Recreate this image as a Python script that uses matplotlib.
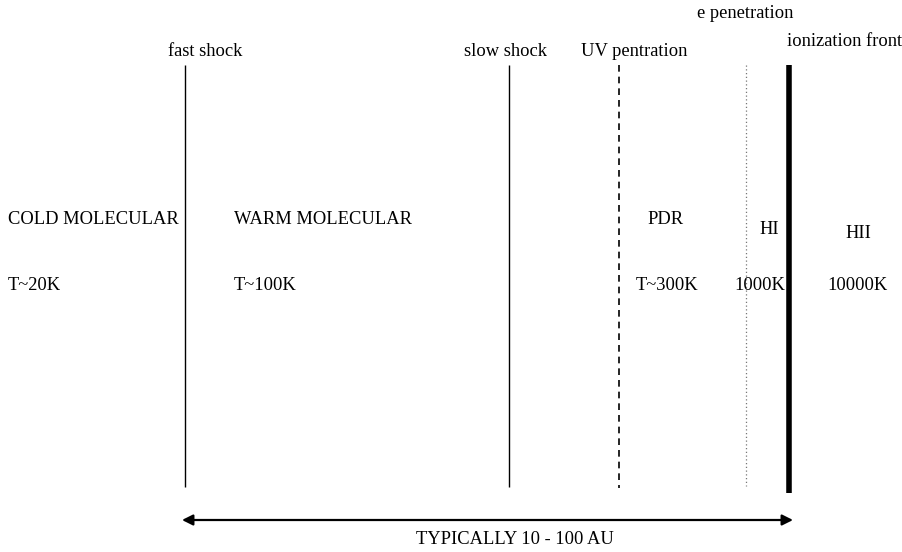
import matplotlib.pyplot as plt

plt.rcParams['font.family'] = ['Liberation Serif', 'DejaVu Serif']

# boundary lines (pixel positions in the sketch)
line_names = ['fast shock', 'slow shock', 'UV pentration', 'e penetration', 'ionization front']
line_x = [185, 509, 619, 746, 789]
line_top = [65, 65, 65, 65, 65]
line_bottom = [487, 487, 488, 486, 493]
line_styles = ['-', '-', (0, (4, 3)), (0, (1, 2)), '-']
line_widths = [1.0, 1.0, 1.2, 0.9, 4.0]
line_colors = ['black', 'black', 'black', '#777777', 'black']

# labels above the lines
label_x = [205, 506, 634, 745, 845]
label_y = [52, 52, 52, 13, 42]

# regions
region_names = ['COLD MOLECULAR', 'WARM MOLECULAR', 'PDR', 'HI', 'HII']
region_x = [8, 234, 665, 769, 858]
region_y = [220, 220, 220, 229, 233]
region_ha = ['left', 'left', 'center', 'center', 'center']

temps = ['T~20K', 'T~100K', 'T~300K', '1000K', '10000K']
temp_x = [8, 234, 667, 760, 857]
temp_ha = ['left', 'left', 'center', 'center', 'center']
temp_y = 286

arrow_from, arrow_to, arrow_y = 182, 793, 520
scale_label = 'TYPICALLY 10 - 100 AU'
scale_label_x, scale_label_y = 515, 540

fig = plt.figure(figsize=(9.03, 5.52), dpi=100)
ax = fig.add_axes([0, 0, 1, 1])
ax.set_xlim(0, 903)
ax.set_ylim(552, 0)
ax.axis('off')

for x, t, b, ls, lw, c in zip(line_x, line_top, line_bottom, line_styles, line_widths, line_colors):
    ax.plot([x, x], [t, b], linestyle=ls, linewidth=lw, color=c, solid_capstyle='butt')

for name, x, y in zip(line_names, label_x, label_y):
    ax.text(x, y, name, ha='center', va='center', fontsize=13.3)

for name, x, y, ha in zip(region_names, region_x, region_y, region_ha):
    ax.text(x, y, name, ha=ha, va='center', fontsize=13.3)

for name, x, ha in zip(temps, temp_x, temp_ha):
    ax.text(x, temp_y, name, ha=ha, va='center', fontsize=13.3)

ax.annotate('', xy=(arrow_to, arrow_y), xytext=(arrow_from, arrow_y),
            arrowprops=dict(arrowstyle='<|-|>', color='black', lw=1.6,
                            mutation_scale=16, shrinkA=0, shrinkB=0))
ax.text(scale_label_x, scale_label_y, scale_label, ha='center', va='center', fontsize=13.3)

fig.savefig('out.png', dpi=100)
